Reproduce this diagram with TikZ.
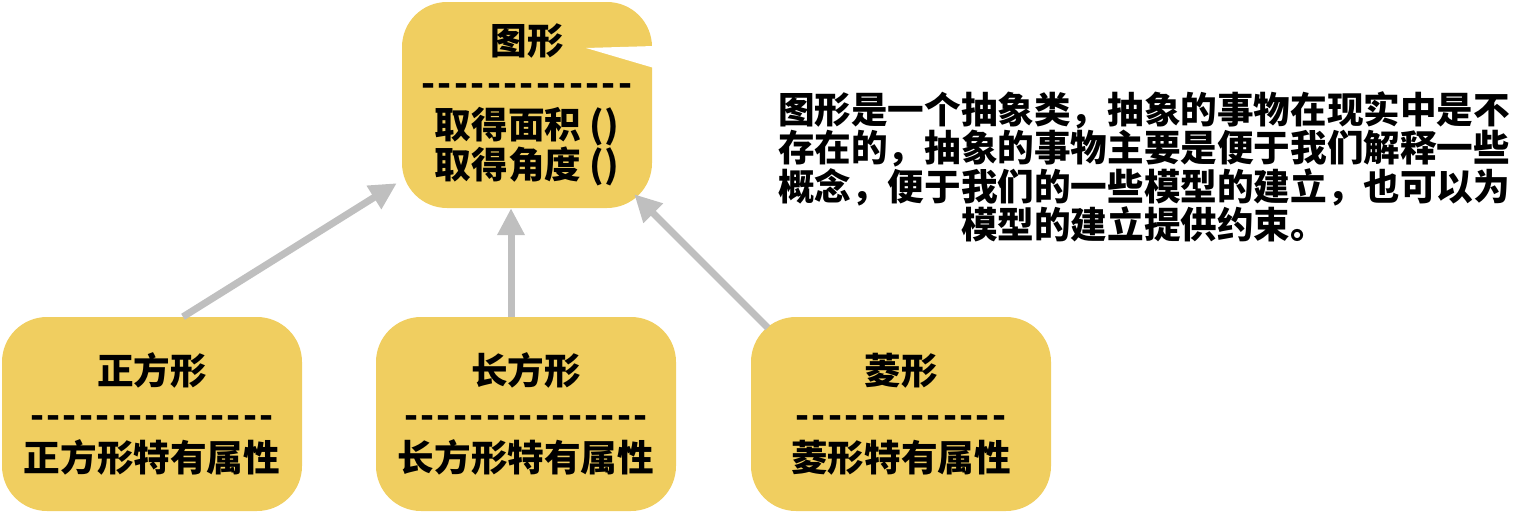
\documentclass[tikz,border=0pt]{standalone}
\usepackage{fontspec}
\newfontfamily\cjkfont{Noto Sans CJK SC}
\usetikzlibrary{arrows.meta}
\definecolor{boxyellow}{HTML}{F0CE60}
\definecolor{arrowgray}{HTML}{BFBFBF}
\newcommand\classfont{\cjkfont\bfseries\fontsize{36.6}{39}\selectfont}
\newcommand\notefont{\cjkfont\bfseries\fontsize{36.6}{38.5}\selectfont}
\newcommand\dashline[1]{{\addfontfeature{LetterSpace=6.5}#1}}
\tikzset{
  classbox/.style={fill=boxyellow, rounded corners=45pt, minimum width=300pt,
    minimum height=194pt, align=center, inner sep=0pt, font=\classfont},
  inherit/.style={draw=arrowgray, line width=7pt,
    -{Triangle[length=27pt,width=26pt]}},
}
\begin{document}
\begin{tikzpicture}[x=1pt,y=-1pt]
\useasboundingbox (0,0) rectangle (1536,514);
% abstract class
\node[classbox, minimum width=250pt, minimum height=206pt] (shape) at (527,105)
  {图形\\[3pt]\dashline{-------------}\\[3pt]取得面积 ()\\取得角度 ()};
\fill[white] (586,48) -- (654,46) -- (654,68) -- cycle;
% subclasses
\node[classbox] (square) at (152,414) {正方形\\[5pt]\dashline{---------------}\\[4pt]正方形特有属性};
\node[classbox] (rect) at (526,414) {长方形\\[5pt]\dashline{---------------}\\[4pt]长方形特有属性};
\node[classbox] (rhombus) at (901,414) {菱形\\[5pt]\dashline{-------------}\\[4pt]菱形特有属性};
% inheritance
\draw[inherit] ([xshift=31pt]square.north) -- ([xshift=-5pt,yshift=25pt]shape.south west);
\draw[inherit] ([xshift=-15pt]rect.north) -- ([xshift=-16pt]shape.south);
\draw[inherit] ([xshift=17pt,yshift=-11pt]rhombus.north west) -- ([xshift=-18pt,yshift=14pt]shape.south east);
% note
\node[font=\notefont, align=center] (note) at (1144,167)
  {图形是一个抽象类，抽象的事物在现实中是不\\存在的，抽象的事物主要是便于我们解释一些\\概念，便于我们的一些模型的建立，也可以为\\模型的建立提供约束。};
\end{tikzpicture}
\end{document}
